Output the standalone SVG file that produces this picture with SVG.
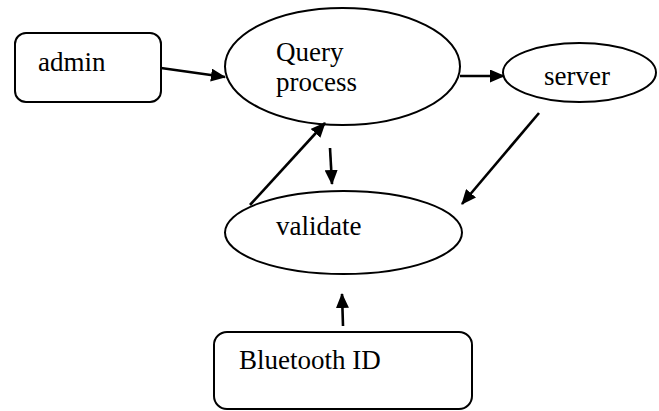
<svg xmlns="http://www.w3.org/2000/svg" width="659" height="411" viewBox="0 0 659 411">
  <style>
    .shape { fill: #ffffff; stroke: #000000; stroke-width: 2; }
    .label { font-family: "Liberation Serif", "DejaVu Serif", serif; font-size: 27px; fill: #000000; }
    .edge { stroke: #000000; stroke-width: 2.6; fill: none; marker-end: url(#arrow); }
  </style>
  <defs>
    <marker id="arrow" markerUnits="userSpaceOnUse" markerWidth="15" markerHeight="13" refX="14" refY="6.5" orient="auto">
      <path d="M0,0 L15,6.5 L0,13 z" fill="#000000"/>
    </marker>
  </defs>
  <rect width="659" height="411" fill="#ffffff"/>

  <g id="admin">
    <rect class="shape" x="15" y="33" width="146" height="69" rx="11" ry="11"/>
    <text class="label" x="38" y="71">admin</text>
  </g>

  <g id="query-process">
    <ellipse class="shape" cx="342.5" cy="66.5" rx="117.5" ry="58.5"/>
    <text class="label" x="276" y="60.5">Query</text>
    <text class="label" x="276" y="90.5">process</text>
  </g>

  <g id="server">
    <ellipse class="shape" cx="579.5" cy="72.5" rx="76.5" ry="29.5"/>
    <text class="label" x="544" y="85">server</text>
  </g>

  <g id="validate">
    <ellipse class="shape" cx="343.5" cy="232.5" rx="118.5" ry="41.5"/>
    <text class="label" x="276" y="235">validate</text>
  </g>

  <g id="bluetooth-id">
    <rect class="shape" x="214" y="332" width="258" height="77" rx="13" ry="13"/>
    <text class="label" x="239" y="369">Bluetooth ID</text>
  </g>

  <g id="connectors">
    <line class="edge" x1="161" y1="68" x2="225" y2="77"/>
    <line class="edge" x1="460" y1="76" x2="504" y2="76"/>
    <line class="edge" x1="539" y1="113" x2="462" y2="204"/>
    <line class="edge" x1="250" y1="205" x2="325" y2="123"/>
    <line class="edge" x1="330" y1="148" x2="332" y2="184"/>
    <line class="edge" x1="343" y1="326" x2="342" y2="294"/>
  </g>
</svg>
